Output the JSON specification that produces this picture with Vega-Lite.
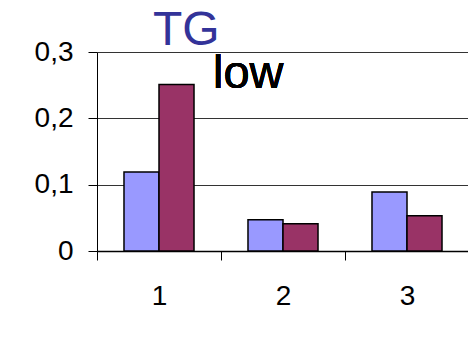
{
  "$schema": "https://vega.github.io/schema/vega-lite/v6.json",
  "autosize": {"type": "none"},
  "padding": {"left": 97, "top": 52, "right": 0, "bottom": 89},
  "width": 372,
  "height": 199,
  "background": "white",
  "title": {
    "text": "TG",
    "anchor": "start",
    "frame": "group",
    "dx": 56,
    "dy": 55,
    "offset": 0,
    "baseline": "alphabetic",
    "font": "Liberation Sans",
    "fontSize": 48,
    "fontWeight": "normal",
    "color": "#333399"
  },
  "data": {
    "values": [
      {"group": "1", "series": "A", "value": 0.119},
      {"group": "1", "series": "B", "value": 0.251},
      {"group": "2", "series": "A", "value": 0.047},
      {"group": "2", "series": "B", "value": 0.041},
      {"group": "3", "series": "A", "value": 0.089},
      {"group": "3", "series": "B", "value": 0.053}
    ]
  },
  "config": {
    "view": {"stroke": null},
    "font": "Liberation Sans"
  },
  "layer": [
    {
      "mark": {"type": "bar", "stroke": "#000000", "strokeWidth": 1.5},
      "encoding": {
        "x": {
          "field": "group",
          "type": "nominal",
          "scale": {"paddingInner": 0, "paddingOuter": 0},
          "axis": {
            "title": null,
            "labelAngle": 0,
            "labelFontSize": 28,
            "labelColor": "#000000",
            "labelPadding": 22,
            "tickBand": "extent",
            "tickSize": 9,
            "tickColor": "#000000",
            "domainColor": "#000000",
            "domainWidth": 1.5,
            "grid": false
          }
        },
        "xOffset": {
          "field": "series",
          "type": "nominal",
          "scale": {"paddingInner": 0, "paddingOuter": 0.771}
        },
        "y": {
          "field": "value",
          "type": "quantitative",
          "scale": {"domain": [0, 0.3], "nice": false},
          "axis": {
            "title": null,
            "values": [0, 0.1, 0.2, 0.3],
            "labelExpr": "datum.value == 0 ? '0' : replace(format(datum.value, '.1f'), '.', ',')",
            "labelFontSize": 28,
            "labelColor": "#000000",
            "labelPadding": 15,
            "tickSize": 9,
            "tickColor": "#000000",
            "domainColor": "#000000",
            "grid": true,
            "gridColor": "#333333",
            "gridWidth": 1
          }
        },
        "color": {
          "field": "series",
          "type": "nominal",
          "scale": {"domain": ["A", "B"], "range": ["#9999FF", "#993366"]},
          "legend": null
        }
      }
    },
    {
      "mark": {
        "type": "text",
        "text": "low",
        "align": "left",
        "baseline": "alphabetic",
        "font": "Liberation Sans",
        "fontSize": 47,
        "color": "#000000",
        "dx": 54,
        "dy": 36
      },
      "encoding": {
        "x": {"datum": "1", "type": "nominal"},
        "y": {"datum": 0.3, "type": "quantitative"}
      }
    }
  ]
}
